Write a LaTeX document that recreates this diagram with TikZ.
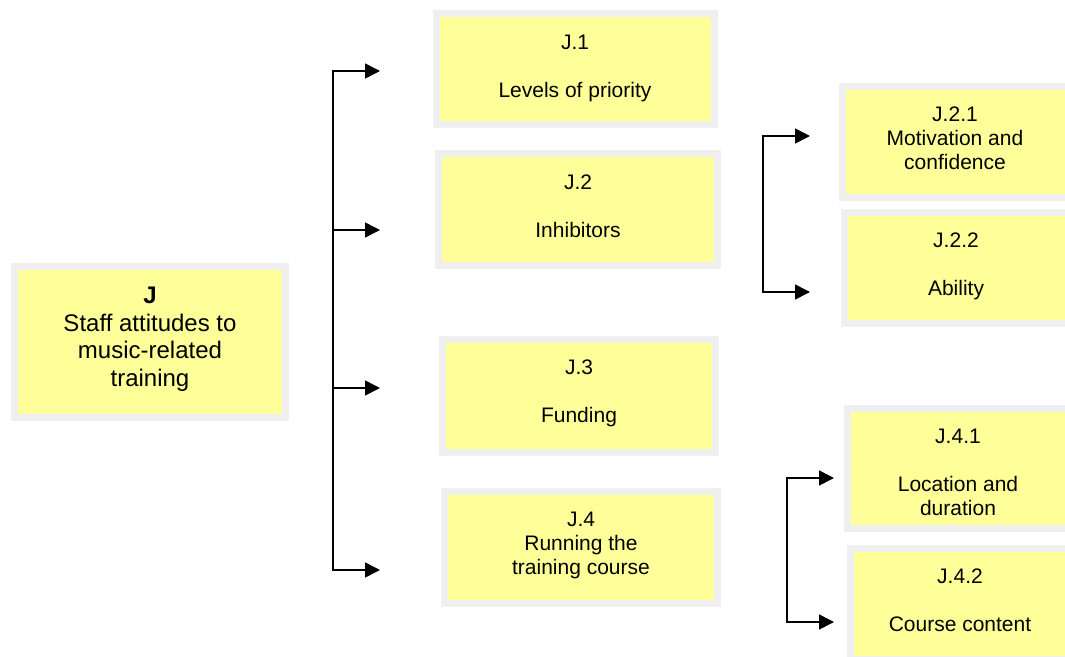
\documentclass[tikz,border=0pt]{standalone}
\usepackage{fontspec}
\setmainfont{Liberation Sans}
\usetikzlibrary{arrows.meta}
\definecolor{boxyellow}{HTML}{FFFF99}
\definecolor{boxgray}{HTML}{EFEFEF}
\tikzset{
  topicbox/.style={draw=boxgray, fill=boxyellow, line width=7pt, inner sep=0pt, outer sep=0pt, minimum width=#1},
  topicbox/.default=272pt,
  lbl/.style={align=center, inner sep=0pt, font=\fontsize{21}{24}\selectfont},
  mainlbl/.style={align=center, inner sep=0pt, font=\fontsize{24}{27.5}\selectfont},
  conn/.style={line width=1.6pt, line join=miter, -{Triangle[length=15pt,width=15pt]}},
  spine/.style={line width=1.6pt}
}
\begin{document}
\begin{tikzpicture}[x=1pt,y=-1pt]
\useasboundingbox (0,0) rectangle (1065,656);
\clip (0,0) rectangle (1065,656);
% boxes
\node[topicbox=271pt, minimum height=151pt] (J) at (150,342) {};
\node[topicbox=278pt, minimum height=111pt] (J1) at (575.5,69) {};
\node[topicbox=279pt, minimum height=112pt] (J2) at (578,209.5) {};
\node[topicbox=273pt, minimum height=113pt] (J3) at (579,396) {};
\node[topicbox=273pt, minimum height=112pt] (J4) at (581,547.5) {};
\node[topicbox=229pt, minimum height=111pt] (J21) at (957,142) {};
\node[topicbox=229pt, minimum height=111pt] (J22) at (959,268) {};
\node[topicbox=229pt, minimum height=120pt] (J41) at (962,468.5) {};
\node[topicbox=229pt, minimum height=111pt] (J42) at (965,604) {};
% texts
\node[mainlbl] (Jt) at (150,339) {\textbf{J}\\Staff attitudes to\\music-related\\training};
\node[lbl] (J1t) at (575,68) {J.1\\[24pt]Levels of priority};
\node[lbl] (J2t) at (578,206) {J.2\\[24pt]Inhibitors};
\node[lbl] (J3t) at (579,393) {J.3\\[24pt]Funding};
\node[lbl] (J4t) at (581,545) {J.4\\Running the\\training course};
\node[lbl] (J21t) at (955,138) {J.2.1\\Motivation and\\confidence};
\node[lbl] (J22t) at (956,266) {J.2.2\\[24pt]Ability};
\node[lbl] (J41t) at (958,472.5) {J.4.1\\[24pt]Location and\\duration};
\node[lbl] (J42t) at (960,600.5) {J.4.2\\[24pt]Course content};
% connector coordinates
\coordinate (s1) at (333,71);  \coordinate (t1) at (380,71);
\coordinate (s2) at (333,230); \coordinate (t2) at (380,230);
\coordinate (s3) at (333,388); \coordinate (t3) at (380,388);
\coordinate (s4) at (333,570); \coordinate (t4) at (380,570);
\coordinate (u1) at (763,136); \coordinate (v1) at (810,136);
\coordinate (u2) at (763,292); \coordinate (v2) at (810,292);
\coordinate (w1) at (787,478); \coordinate (x1) at (834,478);
\coordinate (w2) at (787,622); \coordinate (x2) at (834,622);
% connectors
\draw[conn] (s2) -- (s1) -- (t1);
\draw[conn] (s2) -- (t2);
\draw[spine] (s2) -- (s3);
\draw[conn] (s3) -- (t3);
\draw[conn] (s3) -- (s4) -- (t4);
\draw[conn] (u2) -- (u1) -- (v1);
\draw[conn] (u1) -- (u2) -- (v2);
\draw[conn] (w2) -- (w1) -- (x1);
\draw[conn] (w1) -- (w2) -- (x2);
\end{tikzpicture}
\end{document}
